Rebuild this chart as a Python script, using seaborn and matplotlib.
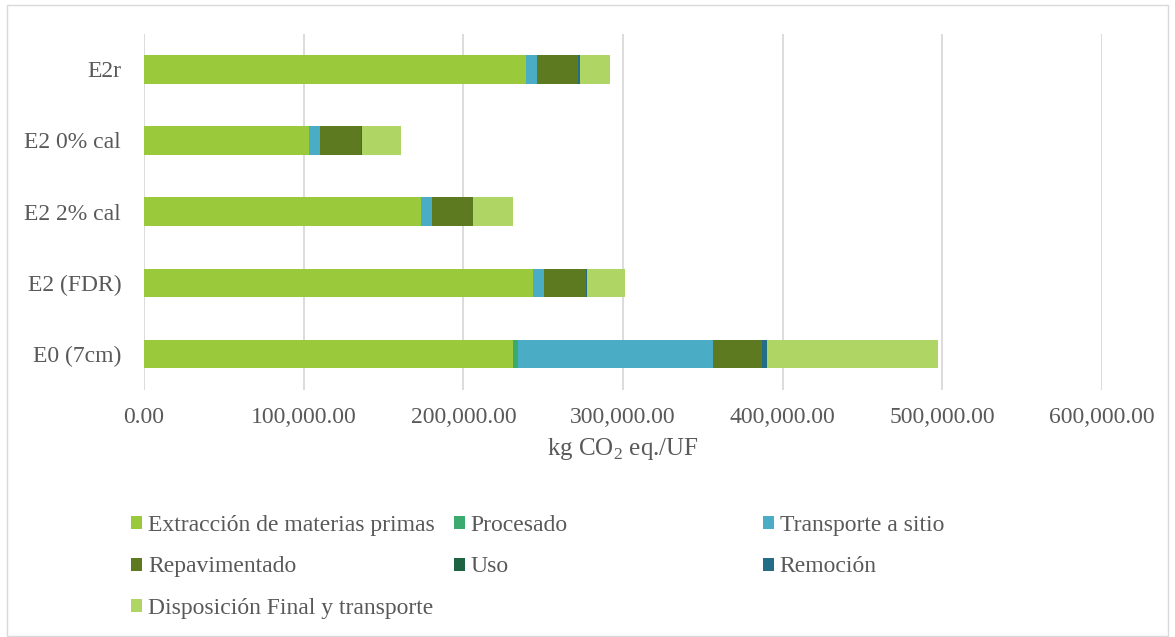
import numpy as np
import pandas as pd
import matplotlib
matplotlib.use("Agg")
import matplotlib.pyplot as plt
from matplotlib.patches import Patch, Rectangle
from matplotlib.ticker import FuncFormatter
import seaborn as sns

# --------------------------------
# DATA (kg CO2 eq./UF)
# --------------------------------

escenarios = ["E2r", "E2 0% cal", "E2 2% cal", "E2 (FDR)", "E0 (7cm)"]

extraccion = [239200, 103500, 173600, 243800, 231200]
procesado = [0, 0, 0, 0, 2750]
transporte = [6900, 6700, 6700, 6700, 122100]
repavimentado = [25400, 25700, 25500, 26300, 30700]
uso = [0, 0, 0, 0, 0]
remocion = [1300, 600, 500, 600, 3500]
disposicion = [18800, 24200, 24500, 24000, 106700]

etapas = [
    "Extracción de materias primas",
    "Procesado",
    "Transporte a sitio",
    "Repavimentado",
    "Uso",
    "Remoción",
    "Disposición Final y transporte",
]
colores = ["#9ACA3C", "#3AAA6E", "#4BACC6", "#5E7A21", "#1E6442", "#236E86", "#AFD564"]

df = pd.DataFrame(
    {
        "Escenario": escenarios,
        etapas[0]: extraccion,
        etapas[1]: procesado,
        etapas[2]: transporte,
        etapas[3]: repavimentado,
        etapas[4]: uso,
        etapas[5]: remocion,
        etapas[6]: disposicion,
    }
)

# cumulative sums for stacking
acum = df[etapas].cumsum(axis=1)
acum["Escenario"] = df["Escenario"]

# --------------------------------
# STYLE
# --------------------------------

sns.set_style("white")
plt.rcParams["font.family"] = ["Liberation Serif", "DejaVu Serif"]
plt.rcParams["mathtext.fontset"] = "custom"
plt.rcParams["mathtext.rm"] = "Liberation Serif"
texto = "#595959"
fs = 17

fig = plt.figure(figsize=(11.75, 6.37), dpi=100)
ax = fig.add_axes([0.1226, 0.3885, 0.8154, 0.5585])

# draw from the last cumulative to the first so segments overlap properly
for etapa, color in zip(etapas[::-1], colores[::-1]):
    sns.barplot(
        data=acum,
        x=etapa,
        y="Escenario",
        order=escenarios,
        color=color,
        width=0.4,
        linewidth=0,
        saturation=1,
        ax=ax,
    )

ax.set_xlim(0, 600000)
ax.set_xticks(np.arange(0, 600001, 100000))
ax.xaxis.set_major_formatter(FuncFormatter(lambda v, p: f"{v:,.2f}"))
ax.grid(axis="x", color="#D9D9D9", linewidth=1.3)
ax.set_axisbelow(True)
for s in ax.spines.values():
    s.set_visible(False)

ax.tick_params(axis="x", length=0, pad=12.5, labelsize=fs, labelcolor=texto)
ax.tick_params(axis="y", length=0, pad=16.5, labelsize=fs, labelcolor=texto)
ax.set_ylabel("")
ax.set_xlabel(r"kg CO$_2$ eq./UF", fontsize=18, color=texto, labelpad=5.5)

# --------------------------------
# LEGEND (three columns, row-major)
# --------------------------------

columnas = [[0, 3, 6], [1, 4], [2, 5]]
x_cols = [0.1115, 0.386, 0.649]
for xc, idx in zip(x_cols, columnas):
    handles = [Patch(facecolor=colores[i], edgecolor="none") for i in idx]
    labels = [etapas[i] for i in idx]
    fig.legend(
        handles,
        labels,
        loc="upper left",
        bbox_to_anchor=(xc, 0.192),
        bbox_transform=fig.transFigure,
        frameon=False,
        fontsize=fs,
        labelcolor=texto,
        handlelength=0.47,
        handleheight=0.47,
        handletextpad=0.25,
        labelspacing=0.88,
        borderaxespad=0,
        borderpad=0,
    )

# chart border
fig.patches.append(
    Rectangle((0.006, 0.002), 0.988, 0.99, transform=fig.transFigure,
              fill=False, edgecolor="#D9D9D9", linewidth=1)
)

fig.savefig("out.png", dpi=100)
